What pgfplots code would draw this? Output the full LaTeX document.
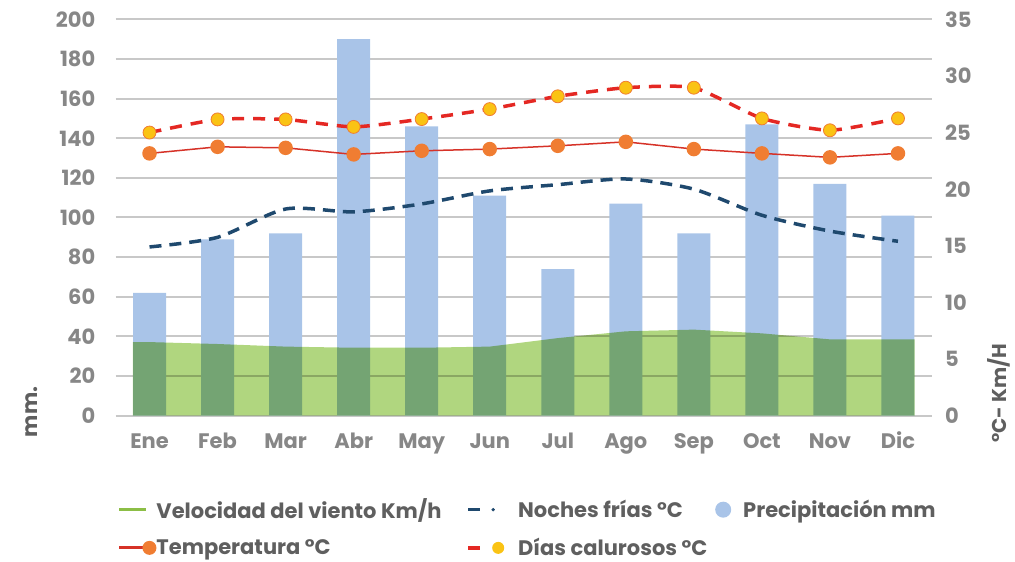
\documentclass[border=0pt]{standalone}
\usepackage{pgfplots}
\pgfplotsset{compat=1.18}
\usepackage{fontspec}
\setmainfont{Poppins}
\definecolor{barblue}{RGB}{169,196,232}
\definecolor{areagreen}{RGB}{176,214,127}
\definecolor{gridgray}{RGB}{200,200,200}
\definecolor{navy}{RGB}{31,73,110}
\definecolor{tempred}{RGB}{214,50,40}
\definecolor{markorange}{RGB}{240,125,50}
\definecolor{dashred}{RGB}{228,40,35}
\definecolor{markyellow}{RGB}{250,195,20}
\definecolor{legendgreen}{RGB}{140,190,70}
\definecolor{tickgray}{RGB}{135,135,135}
\definecolor{legendgray}{RGB}{95,95,95}
\newcommand\tf{\fontsize{21}{24}\selectfont\bfseries}
\begin{document}
\begin{tikzpicture}[x=1pt,y=1pt]
\useasboundingbox (0,0) rectangle (1015,562);
\begin{axis}[
  at={(115.5pt,146.3pt)}, anchor=south west,
  scale only axis, width=816.5pt, height=396.4pt,
  xmin=-0.5, xmax=11.5, ymin=0, ymax=200,
  xtick={0,...,11},
  xticklabels={Ene,Feb,Mar,Abr,May,Jun,Jul,Ago,Sep,Oct,Nov,Dic},
  ytick={0,20,...,200},
  /pgf/number format/assume math mode=true,
  ymajorgrids, grid style={gridgray, line width=2pt},
  axis line style={draw=none},
  major tick length=0pt,
  tick label style={font=\tf, text=tickgray, inner sep=0pt},
  yticklabel style={anchor=east, xshift=-20pt},
  xticklabel style={anchor=base, yshift=-33pt},
]
\addplot[ybar, bar width=33pt, fill=barblue, draw=none] coordinates {
  (0,62) (1,89) (2,92) (3,190) (4,146) (5,111) (6,74) (7,107) (8,92) (9,147) (10,117) (11,101)};
\end{axis}
\begin{axis}[
  at={(115.5pt,146.3pt)}, anchor=south west,
  scale only axis, width=816.5pt, height=396.4pt,
  xmin=-0.5, xmax=11.5, ymin=0, ymax=35,
  axis x line=none, axis y line*=right,
  axis line style={draw=none},
  ytick={0,5,...,35},
  /pgf/number format/assume math mode=true,
  major tick length=0pt,
  tick label style={font=\tf, text=tickgray, inner sep=0pt},
  yticklabel style={anchor=west, xshift=13pt},
  legend columns=3,
  legend cell align=left,
  legend style={at={(0.003,-0.21)}, anchor=north west, draw=none, fill=none,
    inner sep=0pt, outer sep=0pt, column sep=0pt, row sep=18pt,
    nodes={inner sep=0pt, text=legendgray, font=\tf}},
]
\addplot[forget plot, fill=areagreen, draw=none, blend mode=multiply] coordinates {
  (-0.245,6.5) (0,6.5) (1,6.33) (2,6.1) (3,6.0) (4,6.0) (5,6.1) (6,6.85) (7,7.45) (8,7.6) (9,7.27) (10,6.74) (11,6.74) (11.245,6.74)} \closedcycle;
\addplot[forget plot, smooth, tension=0.45, navy, line width=3.5pt, dash pattern=on 12pt off 8pt] coordinates {
  (0,14.9) (1,15.75) (2,18.25) (3,18.0) (4,18.7) (5,19.85) (6,20.4) (7,20.9) (8,20.0) (9,17.7) (10,16.3) (11,15.4)};
\addplot[forget plot, tempred, line width=1.5pt, mark=*, mark size=6.5pt, mark options={fill=markorange, draw=markorange}] coordinates {
  (0,23.16) (1,23.74) (2,23.65) (3,23.07) (4,23.39) (5,23.54) (6,23.83) (7,24.18) (8,23.54) (9,23.16) (10,22.81) (11,23.16)};
\addplot[forget plot, smooth, tension=0.35, dashred, line width=3.5pt, dash pattern=on 12pt off 9pt, mark=*, mark size=6.5pt, mark options={solid, fill=markyellow, draw=markorange, line width=0.8pt}] coordinates {
  (0,25.0) (1,26.16) (2,26.16) (3,25.5) (4,26.19) (5,27.07) (6,28.2) (7,28.96) (8,28.96) (9,26.25) (10,25.2) (11,26.25)};
\addlegendimage{legend image code/.code={
  \draw[legendgreen, line width=3pt] (0pt,0pt) -- (27pt,0pt);
  \path[draw=none, fill=none] (0pt,0pt) -- (37pt,0pt);}}
\addlegendentry{\makebox[310pt][l]{Velocidad del viento Km/h}}
\addlegendimage{legend image code/.code={
  \draw[navy, line width=3.5pt] (0pt,0pt) -- (12pt,0pt);
  \fill[navy] (25pt,0pt) circle (1.5pt);
  \path[draw=none, fill=none] (0pt,0pt) -- (50pt,0pt);}}
\addlegendentry{\makebox[197pt][l]{Noches frías °C}}
\addlegendimage{legend image code/.code={
  \fill[barblue, draw=none] (8pt,0pt) circle (8pt);
  \path[draw=none, fill=none] (0pt,0pt) -- (28pt,0pt);}}
\addlegendentry{Precipitación mm}
\addlegendimage{legend image code/.code={
  \draw[tempred, line width=3pt] (0pt,0pt) -- (26pt,0pt);
  \fill[markorange, draw=none] (30pt,0pt) circle (7pt);
  \path[draw=none, fill=none] (0pt,0pt) -- (37pt,0pt);}}
\addlegendentry{\makebox[310pt][l]{Temperatura °C}}
\addlegendimage{legend image code/.code={
  \draw[dashred, line width=3.5pt] (0pt,0pt) -- (12pt,0pt);
  \fill[markyellow, draw=none] (30pt,0pt) circle (6pt);
  \path[draw=none, fill=none] (0pt,0pt) -- (50pt,0pt);}}
\addlegendentry{\makebox[197pt][l]{Días calurosos °C}}
\end{axis}
\node[rotate=90, font=\tf, text=legendgray, inner sep=0pt] at (32,150) {mm.};
\node[rotate=90, font=\fontsize{20}{24}\selectfont\bfseries, text=legendgray, inner sep=0pt] at (999,169) {°C- Km/H};
\end{tikzpicture}
\end{document}
